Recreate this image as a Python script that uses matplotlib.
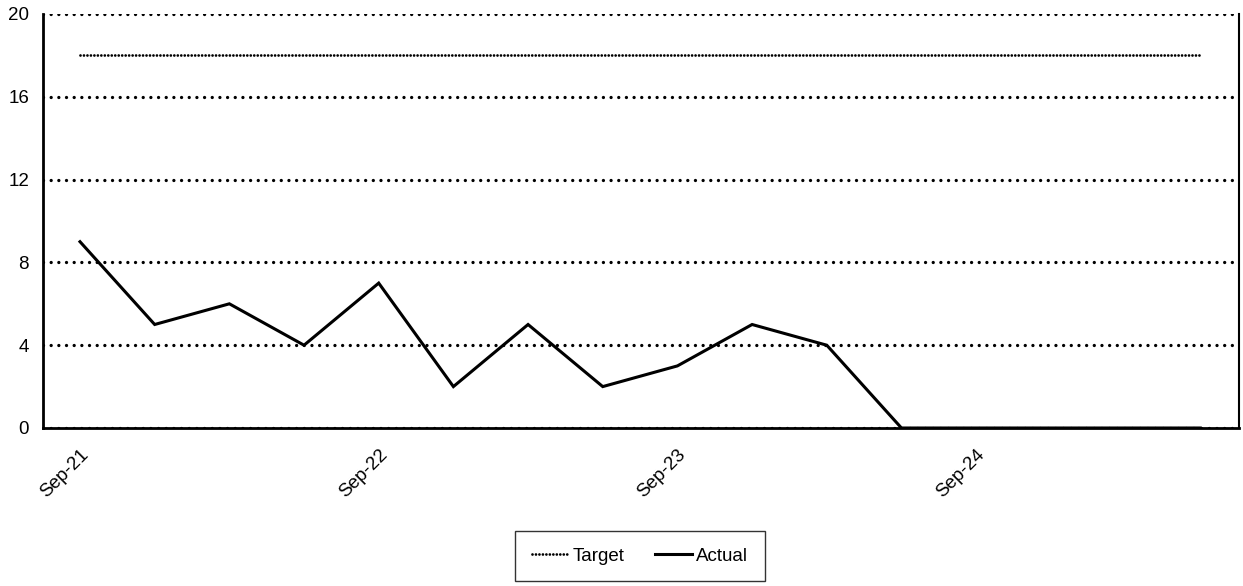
import matplotlib
matplotlib.use("Agg")
import matplotlib.pyplot as plt
import numpy as np

plt.rcParams['font.family'] = ['Liberation Sans', 'DejaVu Sans']

quarters = ["Sep-21", "Dec-21", "Mar-22", "Jun-22", "Sep-22", "Dec-22", "Mar-23", "Jun-23",
            "Sep-23", "Dec-23", "Mar-24", "Jun-24", "Sep-24", "Dec-24", "Mar-25", "Jun-25"]
target = [18] * 16
actual = [9, 5, 6, 4, 7, 2, 5, 2, 3, 5, 4, 0, 0, 0, 0, 0]
y_ticks = [0, 4, 8, 12, 16, 20]

fig = plt.figure(figsize=(12.43, 5.86), dpi=100)
ax = fig.add_axes([43 / 1243, 1 - 428 / 586, (1239 - 43) / 1243, (428 - 14) / 586])

x = np.arange(len(quarters))
ax.plot(x, target, color='black', lw=2.0, linestyle=(0, (0.001, 1.25)),
        dash_capstyle='round', label='Target')
ax.plot(x, actual, color='black', lw=2.2, label='Actual', solid_joinstyle='miter')

ax.set_xlim(-0.4955, 15.52)
ax.set_ylim(0, 20)
ax.set_yticks(y_ticks)
ax.yaxis.grid(True, color='black', linestyle=(0, (0.001, 2.3)), lw=2.4,
              dash_capstyle='round')
ax.set_axisbelow(True)

ax.set_xticks(x[::4])
ax.set_xticklabels(quarters[::4], rotation=45, ha='right', va='top', rotation_mode='anchor')
ax.tick_params(axis='both', length=0, labelsize=13.5)
ax.tick_params(axis='y', pad=10)
ax.tick_params(axis='x', pad=13)

ax.spines['top'].set_visible(False)
for s in ['left', 'bottom', 'right']:
    ax.spines[s].set_color('black')
ax.spines['left'].set_linewidth(2)
ax.spines['bottom'].set_linewidth(2)
ax.spines['right'].set_linewidth(1.5)

leg = fig.legend(loc='center', bbox_to_anchor=(640 / 1243, 1 - 556 / 586), ncol=2,
                 frameon=True, fancybox=False, edgecolor='black', fontsize=13.5,
                 handlelength=2.0, handletextpad=0.2, columnspacing=1.6,
                 borderpad=0.9, borderaxespad=0)
leg.get_frame().set_linewidth(1)

fig.savefig('out.png', dpi=100)
